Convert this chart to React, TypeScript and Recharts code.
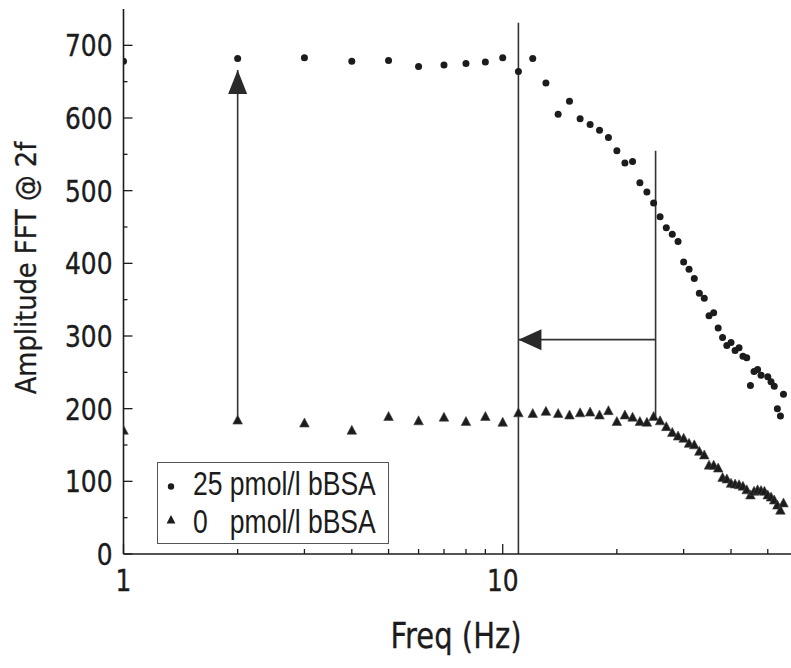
import React from 'react';
import { ScatterChart, Scatter, XAxis, YAxis, ReferenceLine, ReferenceDot, Legend } from 'recharts';

// ---- data ----
const freqHigh = [1, 2, 3, 4, 5, 6, 7, 8, 9, 10, 11, 12, 13, 14, 15, 16, 17, 18, 19, 20, 21, 22, 23, 24, 25, 26, 27, 28, 29, 30, 31, 32, 33, 34, 35, 36, 37, 38, 39, 40, 41, 42, 43, 44, 45, 46, 47, 48, 50, 51, 52, 53, 54, 55];
const ampHigh = [678, 682, 683, 678, 679, 671, 673, 675, 677, 683, 664, 682, 648, 605, 623, 599, 591, 583, 573, 555, 538, 540, 511, 498, 483, 464, 449, 440, 430, 402, 392, 379, 359, 352, 328, 332, 311, 298, 287, 291, 280, 284, 272, 270, 232, 251, 254, 246, 244, 237, 231, 200, 190, 220];

const freqZero = [1, 2, 3, 4, 5, 6, 7, 8, 9, 10, 11, 12, 13, 14, 15, 16, 17, 18, 19, 20, 21, 22, 23, 24, 25, 26, 27, 28, 29, 30, 31, 32, 33, 34, 35, 36, 37, 38, 39, 40, 41, 42, 43, 44, 45, 46, 47, 48, 49, 50, 51, 52, 53, 54, 55];
const ampZero = [170, 184, 180, 170, 189, 183, 188, 182, 189, 181, 194, 193, 196, 193, 191, 194, 195, 191, 197, 182, 191, 188, 182, 181, 189, 183, 175, 167, 162, 159, 152, 150, 141, 136, 122, 122, 118, 105, 103, 97, 96, 95, 93, 88, 81, 86, 88, 87, 86, 81, 78, 74, 67, 60, 70];

const seriesNames = ['25 pmol/l bBSA', '0   pmol/l bBSA'];

const xTickValues = [1, 2, 3, 4, 5, 6, 7, 8, 9, 10, 20, 30, 40, 50];
const xLabelTicks = [1, 10];
const yTickValues = [0, 50, 100, 150, 200, 250, 300, 350, 400, 450, 500, 550, 600, 650, 700];
const yLabelTicks = [0, 100, 200, 300, 400, 500, 600, 700];

const xDomain: [number, number] = [1, 60];
const yDomain: [number, number] = [0, 750];

// annotation values
const dividerFreq = 11;
const dividerTop = 731;
const cutoffFreq = 25.3;
const cutoffTop = 555;
const cutoffBottom = 190;
const shiftAmp = 295;
const jumpFreq = 2;
const jumpFrom = 190;
const jumpTo = 666;

const highData = freqHigh.map((f, i) => ({ f, a: ampHigh[i] }));
const zeroData = freqZero.map((f, i) => ({ f, a: ampZero[i] }));

const INK = '#1c1c1c';
const FONT = 'DejaVu Sans';

const Dot = (p: any) => <circle cx={p.cx} cy={p.cy} r={3.5} fill={INK} />;
const Tri = (p: any) => (
  <polygon points={`${p.cx},${p.cy - 5.2} ${p.cx - 4.8},${p.cy + 3.8} ${p.cx + 4.8},${p.cy + 3.8}`} fill={INK} stroke="#444" strokeWidth={0.6} />
);

const LeftTick = (p: any) => {
  const { x, y, payload } = p;
  const v = payload.value;
  const major = yLabelTicks.includes(v);
  return (
    <g>
      <line x1={x} x2={x + (major ? 9 : 4)} y1={y} y2={y} stroke={INK} strokeWidth={1.3} />
      {major && (
        <text transform={`translate(${x - 11},${y + 11}) scale(0.83,1)`} textAnchor="end" fontFamily={FONT} fontSize={30} fill={INK} stroke={INK} strokeWidth={0.4}>
          {v}
        </text>
      )}
    </g>
  );
};

const RightTick = (p: any) => {
  const { x, y, payload } = p;
  const major = yLabelTicks.includes(payload.value);
  return <line x1={x} x2={x - (major ? 9 : 4)} y1={y} y2={y} stroke={INK} strokeWidth={1.3} />;
};

const BottomTick = (p: any) => {
  const { x, y, payload } = p;
  const v = payload.value;
  const major = xLabelTicks.includes(v);
  return (
    <g>
      <line x1={x} x2={x} y1={y} y2={y - (major ? 10 : 5)} stroke={INK} strokeWidth={1.3} />
      {major && (
        <text transform={`translate(${x},${y + 37}) scale(0.83,1)`} textAnchor="middle" fontFamily={FONT} fontSize={30} fill={INK} stroke={INK} strokeWidth={0.4}>
          {v}
        </text>
      )}
    </g>
  );
};

const TopTick = (p: any) => {
  const { x, y, payload } = p;
  const major = xLabelTicks.includes(payload.value);
  return <line x1={x} x2={x} y1={y} y2={y + (major ? 10 : 5)} stroke={INK} strokeWidth={1.3} />;
};

const UpHead = (p: any) => (
  <polygon points={`${p.cx},${p.cy} ${p.cx - 9.5},${p.cy + 24} ${p.cx + 9.5},${p.cy + 24}`} fill="#2a2a2a" />
);
const LeftHead = (p: any) => (
  <polygon points={`${p.cx},${p.cy} ${p.cx + 23},${p.cy - 10.5} ${p.cx + 23},${p.cy + 10.5}`} fill="#2a2a2a" />
);

const LegendBox = () => (
  <svg width={232} height={82} style={{ display: 'block' }}>
    <rect x={0.5} y={0.5} width={231} height={81} fill="#fff" stroke="#555" strokeWidth={1} />
    <circle cx={14} cy={24.5} r={3.2} fill={INK} />
    <polygon points="14,53 9.6,61.5 18.4,61.5" fill={INK} />
    <text transform="translate(36,33) scale(0.78,1)" fontFamily="Liberation Sans" fontSize={34} fill={INK}>
      {seriesNames[0]}
    </text>
    <text transform="translate(36,71) scale(0.78,1)" fontFamily="Liberation Sans" fontSize={34} fill={INK} style={{ whiteSpace: 'pre' }}>
      {seriesNames[1]}
    </text>
  </svg>
);

export default function App() {
  return (
    <div style={{ position: 'absolute', left: 0, top: 0, width: 791, height: 668, overflow: 'hidden', background: '#fff' }}>
      <ScatterChart width={800} height={668} margin={{ top: 9, right: 2.2, bottom: 0, left: 0 }}>
        <XAxis
          xAxisId="b"
          dataKey="f"
          type="number"
          scale="log"
          domain={xDomain}
          allowDataOverflow
          ticks={xTickValues}
          interval={0}
          height={114}
          tickSize={0}
          tickMargin={0}
          tickLine={false}
          tick={BottomTick}
          axisLine={{ stroke: INK, strokeWidth: 1.6 }}
        />
        <XAxis
          xAxisId="t"
          orientation="top"
          dataKey="f"
          type="number"
          scale="log"
          domain={xDomain}
          allowDataOverflow
          ticks={xTickValues}
          interval={0}
          height={0}
          tickSize={0}
          tickMargin={0}
          tickLine={false}
          tick={TopTick}
          axisLine={{ stroke: INK, strokeWidth: 1.6 }}
        />
        <YAxis
          yAxisId="l"
          dataKey="a"
          type="number"
          domain={yDomain}
          allowDataOverflow
          ticks={yTickValues}
          interval={0}
          width={123.5}
          tickSize={0}
          tickMargin={0}
          tickLine={false}
          tick={LeftTick}
          axisLine={{ stroke: INK, strokeWidth: 1.6 }}
        />
        <YAxis
          yAxisId="r"
          orientation="right"
          dataKey="a"
          type="number"
          domain={yDomain}
          allowDataOverflow
          ticks={yTickValues}
          interval={0}
          width={0}
          tickSize={0}
          tickMargin={0}
          tickLine={false}
          tick={RightTick}
          axisLine={{ stroke: INK, strokeWidth: 1.6 }}
        />

        <ReferenceLine xAxisId="b" yAxisId="l" segment={[{ x: dividerFreq, y: dividerTop }, { x: dividerFreq, y: 0 }]} stroke="#333" strokeWidth={1.6} />
        <ReferenceLine xAxisId="b" yAxisId="l" segment={[{ x: cutoffFreq, y: cutoffTop }, { x: cutoffFreq, y: cutoffBottom }]} stroke="#333" strokeWidth={1.6} />
        <ReferenceLine xAxisId="b" yAxisId="l" segment={[{ x: cutoffFreq, y: shiftAmp }, { x: dividerFreq, y: shiftAmp }]} stroke="#333" strokeWidth={1.6} />
        <ReferenceLine xAxisId="b" yAxisId="l" segment={[{ x: jumpFreq, y: jumpFrom }, { x: jumpFreq, y: jumpTo }]} stroke="#333" strokeWidth={1.6} />
        <ReferenceDot xAxisId="b" yAxisId="l" x={jumpFreq} y={jumpTo} shape={UpHead} />
        <ReferenceDot xAxisId="b" yAxisId="l" x={dividerFreq} y={shiftAmp} shape={LeftHead} />

        <Scatter name={seriesNames[0]} xAxisId="b" yAxisId="l" data={highData} dataKey="a" shape={Dot} isAnimationActive={false} />
        <Scatter name={seriesNames[1]} xAxisId="b" yAxisId="l" data={zeroData} dataKey="a" shape={Tri} isAnimationActive={false} />

        <Legend
          layout="vertical"
          align="center"
          verticalAlign="middle"
          wrapperStyle={{ left: 157, top: 462, width: 232, height: 82 }}
          content={() => <LegendBox />}
        />
      </ScatterChart>
      <svg width={791} height={668} style={{ position: 'absolute', left: 0, top: 0, pointerEvents: 'none' }}>
        <text transform="translate(35.5,268) rotate(-90) scale(0.92,1)" textAnchor="middle" fontFamily={FONT} fontSize={28} fill={INK} stroke={INK} strokeWidth={0.3}>
          Amplitude FFT @ 2f
        </text>
        <text transform="translate(456,648) scale(0.83,1)" textAnchor="middle" fontFamily={FONT} fontSize={35} fill={INK} stroke={INK} strokeWidth={0.3}>
          Freq (Hz)
        </text>
      </svg>
    </div>
  );
}
